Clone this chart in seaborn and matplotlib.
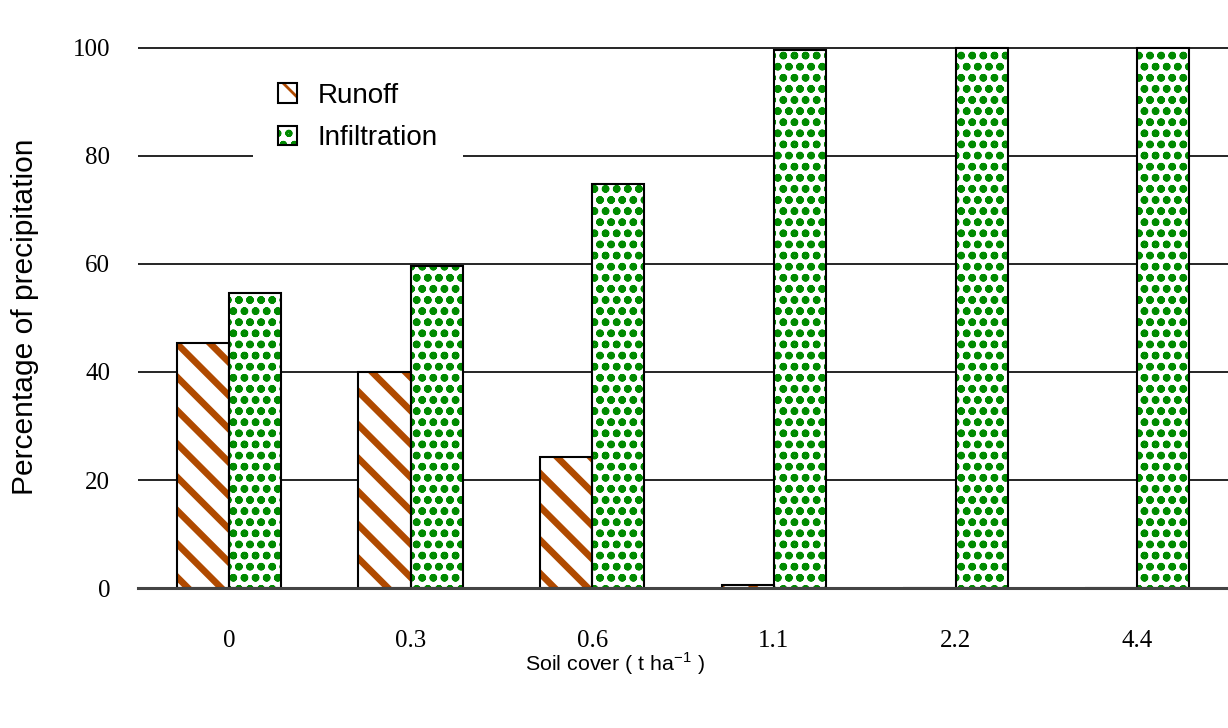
import pandas as pd
import matplotlib
matplotlib.use('Agg')
import matplotlib.pyplot as plt
from matplotlib.patches import Patch
from matplotlib.legend_handler import HandlerTuple
import seaborn as sns

# values
soil_cover = ['0', '0.3', '0.6', '1.1', '2.2', '4.4']
runoff = [45.4, 40.0, 24.3, 0.5, 0.0, 0.0]
infiltration = [54.6, 59.6, 74.8, 99.6, 100.0, 100.0]
series = ['Runoff', 'Infiltration']

df = pd.DataFrame({
    'cover': soil_cover * 2,
    'pct': runoff + infiltration,
    'kind': ['Runoff'] * len(soil_cover) + ['Infiltration'] * len(soil_cover),
})

sns.set_style('white')
plt.rcParams['font.family'] = ['Liberation Sans', 'DejaVu Sans']
plt.rcParams['mathtext.fontset'] = 'custom'
plt.rcParams['mathtext.rm'] = 'Liberation Sans'
plt.rcParams['text.color'] = 'black'
plt.rcParams['axes.labelcolor'] = 'black'
plt.rcParams['xtick.color'] = 'black'
plt.rcParams['ytick.color'] = 'black'

hatch_col = {'Runoff': '#B04A00', 'Infiltration': '#008A00'}
hatches = {'Runoff': '\\\\', 'Infiltration': 'ooo'}
hatch_lw = {'Runoff': 2.4, 'Infiltration': 1.15}

fig = plt.figure(figsize=(6.14, 3.64), dpi=200)
ax = fig.add_axes([0.1124, 0.1923, 0.8876, 0.7455])

# hatched fill
sns.barplot(data=df, x='cover', y='pct', hue='kind', hue_order=series,
            order=soil_cover, width=0.575, palette=['white', 'white'],
            linewidth=0, legend=False, ax=ax, zorder=3)
for cont, name in zip(ax.containers, series):
    for p in cont:
        p.set_facecolor('white')
        p.set_edgecolor(hatch_col[name])
        p.set_hatch(hatches[name])
        p.set_linewidth(0)
        if hasattr(p, 'set_hatch_linewidth'):
            p.set_hatch_linewidth(hatch_lw[name])

# black outlines
sns.barplot(data=df, x='cover', y='pct', hue='kind', hue_order=series,
            order=soil_cover, width=0.575, fill=False, palette=['black', 'black'],
            edgecolor='black', linewidth=0.75, legend=False, ax=ax, zorder=4)

ax.set_xlim(-0.5, 5.5)
ax.set_ylim(0, 100.5)
ax.set_yticks([0, 20, 40, 60, 80, 100])
ax.yaxis.grid(True, color='black', linewidth=0.6)
ax.set_axisbelow(True)
for s in ['top', 'right', 'left']:
    ax.spines[s].set_visible(False)
ax.spines['bottom'].set_color('#444444')
ax.spines['bottom'].set_linewidth(1.1)
ax.spines['bottom'].set_zorder(5)
ax.tick_params(axis='both', length=0)
ax.tick_params(axis='y', pad=10)
ax.tick_params(axis='x', pad=15)
for lab in ax.get_yticklabels() + ax.get_xticklabels():
    lab.set_fontfamily('Liberation Serif')
    lab.set_fontsize(9)

ax.set_ylabel('Percentage of precipitation', fontsize=10.8, labelpad=12)
ax.set_xlabel(r'Soil cover ( t ha$^{\mathregular{-1}}$ )', fontsize=7.7)
ax.xaxis.set_label_coords(0.4376, -0.115)

handles = []
for name in series:
    h1 = Patch(facecolor='white', edgecolor=hatch_col[name], hatch=hatches[name], linewidth=0)
    if hasattr(h1, 'set_hatch_linewidth'):
        h1.set_hatch_linewidth(hatch_lw[name])
    h2 = Patch(fill=False, edgecolor='black', linewidth=0.75)
    handles.append((h1, h2))
leg = ax.legend(handles, series, handler_map={tuple: HandlerTuple(ndivide=1, pad=0)},
                loc='upper left', bbox_to_anchor=(0.1055, 0.977), borderaxespad=0,
                frameon=True, fancybox=False, framealpha=1, edgecolor='white',
                fontsize=10, handlelength=0.7, handleheight=0.7,
                handletextpad=0.72, labelspacing=0.6, borderpad=0.9)
leg.get_frame().set_linewidth(0)
leg.set_zorder(6)

fig.savefig('out.png', dpi=200, facecolor='white')
